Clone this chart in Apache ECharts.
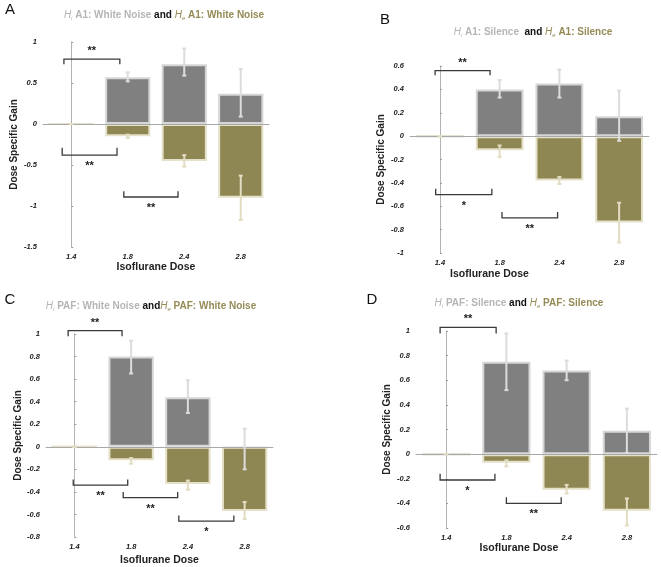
<!DOCTYPE html>
<html>
<head>
<meta charset="utf-8">
<title>Dose Specific Gain</title>
<script src="https://cdn.jsdelivr.net/npm/echarts@6/dist/echarts.min.js"></script>
<style>
  html, body { margin: 0; padding: 0; background: #fff; }
  #main { width: 661px; height: 567px; }
</style>
</head>
<body>
<div id="main"></div>
<script>
const doses = ['1.4', '1.8', '2.4', '2.8'];

// A - A1, white noise
const hiA = [0, 0.57, 0.73, 0.37];
const heA = [0, -0.15, -0.45, -0.90];
const hiErrA = [[0, 0], [0.52, 0.63], [0.59, 0.92], [0.09, 0.67]];
const heErrA = [[0, 0], [-0.13, -0.17], [-0.38, -0.52], [-0.63, -1.17]];
const ticksA = [-1.5, 1, 0.5];
// brackets: from, to (category units), y, tick end, stars
const sigA = [[-0.13, 0.86, 0.79, 0.73, '**'], [-0.16, 0.81, -0.38, -0.29, '**'], [0.93, 1.89, -0.89, -0.82, '**']];

// B - A1, silence
const hiB = [0, 0.40, 0.45, 0.17];
const heB = [0, -0.12, -0.38, -0.74];
const hiErrB = [[0, 0], [0.33, 0.48], [0.33, 0.57], [-0.04, 0.39]];
const heErrB = [[0, 0], [-0.08, -0.18], [-0.35, -0.41], [-0.57, -0.91]];
const ticksB = [-1, 0.6, 0.2];
const sigB = [[-0.08, 0.84, 0.56, 0.52, '**'], [-0.07, 0.87, -0.50, -0.45, '*'], [1.04, 1.97, -0.70, -0.65, '**']];

// C - PAF, white noise
const hiC = [0, 0.80, 0.44, -0.02];
const heC = [0, -0.12, -0.33, -0.57];
const hiErrC = [[0, 0], [0.65, 0.94], [0.30, 0.59], [-0.20, 0.16]];
const heErrC = [[0, 0], [-0.10, -0.15], [-0.30, -0.38], [-0.49, -0.64]];
const ticksC = [-0.8, 1, 0.2];
const sigC = [[-0.11, 0.84, 1.03, 0.98, '**'], [-0.02, 0.94, -0.34, -0.29, '**'], [0.86, 1.82, -0.45, -0.40, '**'], [1.84, 2.81, -0.66, -0.61, '*']];

// D - PAF, silence
const hiD = [0, 0.75, 0.68, 0.19];
const heD = [0, -0.07, -0.29, -0.46];
const hiErrD = [[0, 0], [0.52, 0.98], [0.60, 0.76], [0.01, 0.37]];
const heErrD = [[0, 0], [-0.05, -0.10], [-0.25, -0.32], [-0.36, -0.58]];
const ticksD = [-0.6, 1, 0.2];
const sigD = [[-0.10, 0.83, 1.03, 0.98, '**'], [-0.10, 0.81, -0.21, -0.16, '*'], [1.0, 1.91, -0.40, -0.35, '**']];

const FONT = '"Liberation Sans", Arial, sans-serif';
const GRAY = '#808080', GRAY_EDGE = '#d6d6d6', GRAY_ERR = '#dcdcdc';
const OLIVE = '#8f8753', OLIVE_EDGE = '#e5e1c9', OLIVE_ERR = '#e2ddc2';

const panels = [
  { hi: hiA, he: heA, hiErr: hiErrA, heErr: heErrA, ticks: ticksA, sig: sigA,
    grid: { left: 43, top: 42, width: 226, height: 205 }, xGap: 15, yGap: 24, xShift: 0,
    letter: ['A', 10, 10], title: [164, 15, 'A1: White Noise', 'A1: White Noise', ' and '] },
  { hi: hiB, he: heB, hiErr: hiErrB, heErr: heErrB, ticks: ticksB, sig: sigB,
    grid: { left: 410, top: 66, width: 239, height: 187 }, xGap: 16, yGap: 24, xShift: 80,
    letter: ['B', 385, 20], title: [533, 32, 'A1: Silence', 'A1: Silence', '  and '] },
  { hi: hiC, he: heC, hiErr: hiErrC, heErr: heErrC, ticks: ticksC, sig: sigC,
    grid: { left: 46, top: 334, width: 227, height: 203 }, xGap: 18, yGap: 18, xShift: 0,
    letter: ['C', 10, 300], title: [151, 306, 'PAF: White Noise', 'PAF: White Noise', ' and'] },
  { hi: hiD, he: heD, hiErr: hiErrD, heErr: heErrD, ticks: ticksD, sig: sigD,
    grid: { left: 416, top: 331, width: 241, height: 197 }, xGap: 14, yGap: 24, xShift: 35,
    letter: ['D', 372, 300], title: [519, 303, 'PAF: Silence', 'PAF: Silence', ' and '] }
];

// error bars with small caps
function errRender(color) {
  return function (params, api) {
    const lo = api.coord([api.value(0), api.value(1)]);
    const hi = api.coord([api.value(0), api.value(2)]);
    const x = lo[0];
    const st = { stroke: color, lineWidth: 2 };
    return {
      type: 'group',
      children: [
        { type: 'line', shape: { x1: x, y1: lo[1], x2: x, y2: hi[1] }, style: st },
        { type: 'line', shape: { x1: x - 2, y1: lo[1], x2: x + 2, y2: lo[1] }, style: st },
        { type: 'line', shape: { x1: x - 2, y1: hi[1], x2: x + 2, y2: hi[1] }, style: st }
      ]
    };
  };
}

// significance brackets
function sigRender(list) {
  return function (params, api) {
    const p0 = api.coord([api.value(0), api.value(2)]);
    const p1 = api.coord([api.value(1), api.value(2)]);
    const t = api.coord([api.value(0), api.value(3)])[1];
    const down = t > p0[1];
    return {
      type: 'group',
      children: [
        { type: 'polyline', shape: { points: [[p0[0], t], p0, p1, [p1[0], t]] },
          style: { stroke: '#3a3a3a', lineWidth: 1.3, fill: null } },
        { type: 'text', x: (p0[0] + p1[0]) / 2, y: down ? p0[1] - 8 : p0[1] + 11,
          style: { text: list[params.dataIndex][4], align: 'center', verticalAlign: 'middle',
            fontSize: 11, fontWeight: 'bold', fontFamily: FONT, fill: '#222' } }
      ]
    };
  };
}

const grid = [], xAxis = [], yAxis = [], series = [], graphic = [];
const tickLabel = { fontSize: 7.5, fontStyle: 'italic', fontWeight: 'bold', color: '#1a1a1a', fontFamily: FONT };
const axisLine = { show: true, lineStyle: { color: '#b3b3b3', width: 1 } };

panels.forEach((p, i) => {
  grid.push(p.grid);
  xAxis.push({
    type: 'category', gridIndex: i, data: doses,
    name: 'Isoflurane Dose', nameLocation: 'middle', nameGap: p.xGap,
    nameTextStyle: { fontSize: 10.5, fontWeight: 'bold', color: '#222', fontFamily: FONT, padding: [0, p.xShift, 0, 0] },
    axisLine: axisLine,
    axisTick: { inside: true, length: 2, alignWithLabel: true, lineStyle: { color: '#999' } },
    axisLabel: Object.assign({ margin: 6 }, tickLabel)
  });
  xAxis.push({ type: 'value', gridIndex: i, min: -0.5, max: 3.5, show: false });
  yAxis.push({
    type: 'value', gridIndex: i, min: p.ticks[0], max: p.ticks[1], interval: p.ticks[2],
    name: 'Dose Specific Gain', nameLocation: 'middle', nameGap: p.yGap,
    nameTextStyle: { fontSize: 10, fontWeight: 'bold', color: '#222', fontFamily: FONT },
    axisLine: axisLine,
    axisTick: { show: true, inside: true, length: 2, lineStyle: { color: '#999' } },
    axisLabel: Object.assign({ margin: 6 }, tickLabel),
    splitLine: { show: false }
  });

  // zero line kept under the bars
  series.push({
    type: 'line', xAxisIndex: 2 * i, yAxisIndex: i, data: [], z: 1,
    markLine: {
      silent: true, symbol: ['none', 'none'], label: { show: false },
      lineStyle: { color: '#a8a8a8', width: 1, type: 'solid' },
      data: [{ yAxis: 0 }]
    }
  });
  series.push({
    type: 'bar', xAxisIndex: 2 * i, yAxisIndex: i, data: p.hi, z: 2,
    barWidth: '80%', barGap: '-100%',
    itemStyle: { color: GRAY, borderColor: GRAY_EDGE, borderWidth: 2 }
  });
  series.push({
    type: 'bar', xAxisIndex: 2 * i, yAxisIndex: i, data: p.he, z: 2,
    barWidth: '80%', barGap: '-100%',
    itemStyle: { color: OLIVE, borderColor: OLIVE_EDGE, borderWidth: 2 }
  });
  series.push({
    type: 'custom', xAxisIndex: 2 * i, yAxisIndex: i, z: 5,
    data: p.hiErr.map((e, k) => [k, e[0], e[1]]),
    encode: { x: 0, y: [1, 2] }, renderItem: errRender(GRAY_ERR)
  });
  series.push({
    type: 'custom', xAxisIndex: 2 * i, yAxisIndex: i, z: 5,
    data: p.heErr.map((e, k) => [k, e[0], e[1]]),
    encode: { x: 0, y: [1, 2] }, renderItem: errRender(OLIVE_ERR)
  });
  series.push({
    type: 'custom', xAxisIndex: 2 * i + 1, yAxisIndex: i, z: 6, clip: false,
    data: p.sig.map(s => [s[0], s[1], s[2], s[3]]),
    encode: { x: [0, 1], y: [2, 3] }, renderItem: sigRender(p.sig)
  });

  // panel letter and two-colour title
  graphic.push({
    type: 'text', x: p.letter[1], y: p.letter[2],
    style: { text: p.letter[0], fontSize: 15, fontFamily: FONT, fill: '#111', align: 'center', verticalAlign: 'middle' }
  });
  const t = p.title;
  graphic.push({
    type: 'text', x: t[0], y: t[1],
    style: {
      text: '{hg|H}{sg|i}{g| ' + t[2] + '}{k|' + t[4] + '}{ho|H}{so|e}{o| ' + t[3] + '}',
      align: 'center', verticalAlign: 'middle', fontFamily: FONT, fontSize: 10,
      rich: {
        hg: { fontSize: 10, fontStyle: 'italic', fill: '#b5b5b5', fontFamily: FONT, lineHeight: 13 },
        sg: { fontSize: 6, fontStyle: 'italic', fill: '#b5b5b5', fontFamily: FONT, verticalAlign: 'bottom', lineHeight: 7 },
        g: { fontSize: 10, fontWeight: 'bold', fill: '#b5b5b5', fontFamily: FONT, lineHeight: 13 },
        k: { fontSize: 10, fontWeight: 'bold', fill: '#111', fontFamily: FONT, lineHeight: 13 },
        ho: { fontSize: 10, fontStyle: 'italic', fill: '#958b57', fontFamily: FONT, lineHeight: 13 },
        so: { fontSize: 6, fontStyle: 'italic', fill: '#958b57', fontFamily: FONT, verticalAlign: 'bottom', lineHeight: 7 },
        o: { fontSize: 10, fontWeight: 'bold', fill: '#958b57', fontFamily: FONT, lineHeight: 13 }
      }
    }
  });
});

const myChart = echarts.init(document.getElementById('main'));
myChart.setOption({
  backgroundColor: '#fff',
  animation: false,
  textStyle: { fontFamily: FONT },
  grid: grid,
  xAxis: xAxis,
  yAxis: yAxis,
  series: series,
  graphic: graphic
});
window.addEventListener('resize', () => myChart.resize());
</script>
</body>
</html>
